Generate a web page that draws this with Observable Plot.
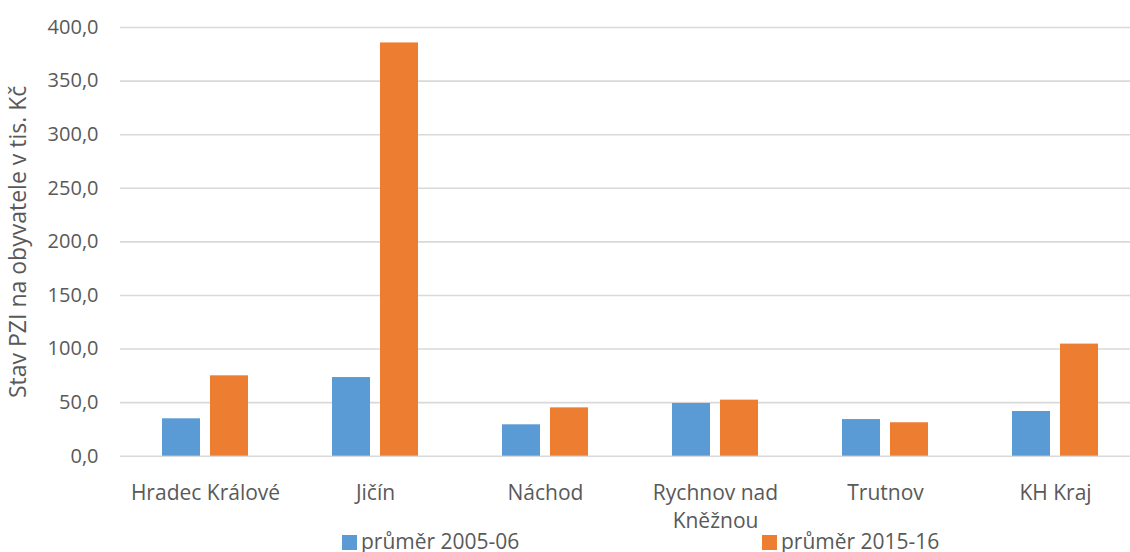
<!DOCTYPE html>
<html>
<head>
<meta charset="utf-8">
<script src="https://cdn.jsdelivr.net/npm/d3@7"></script>
<script src="https://cdn.jsdelivr.net/npm/@observablehq/plot@0.6"></script>
<style>
  html, body { margin: 0; padding: 0; background: #fff; overflow: hidden; }
  #wrap { width: 1130px; height: 552px; overflow: hidden; position: relative; font-family: "Open Sans", sans-serif; }
  #chart svg { display: block; }
  #legend { position: absolute; left: 0; top: 531px; width: 1130px; height: 20px; font-size: 21px; color: #595959; }
  .item { position: absolute; top: 0; height: 20px; line-height: 20px; white-space: nowrap; }
  .sw { display: inline-block; width: 15px; height: 15px; vertical-align: -1px; margin-right: 4px; }
</style>
</head>
<body>
<div id="wrap">
  <div id="chart"></div>
  <div id="legend"></div>
</div>
<script>
const categories = ["Hradec Králové", "Jičín", "Náchod", "Rychnov nad Kněžnou", "Trutnov", "KH Kraj"];
const series = ["průměr 2005-06", "průměr 2015-16"];
const values2005 = [34.9, 73.4, 29.3, 49.2, 34.2, 41.7];
const values2015 = [75.0, 385.6, 45.1, 52.3, 31.2, 104.6];
const yTicks = [0, 50, 100, 150, 200, 250, 300, 350, 400];
const colors = ["#5B9BD5", "#ED7D31"];
const yTitle = "Stav PZI na obyvatele v tis. Kč";

const data = categories.flatMap((c, i) => [
  {c, s: series[0], v: values2005[i]},
  {c, s: series[1], v: values2015[i]}
]);

const labelText = d => d === "Rychnov nad Kněžnou" ? "Rychnov nad\nKněžnou" : d;

const chart = Plot.plot({
  width: 1130,
  height: 529,
  marginLeft: 120,
  marginRight: -10,
  marginTop: 27,
  marginBottom: 73.3,
  style: {fontFamily: "Open Sans", fontSize: "20px", color: "#595959", background: "#fff", overflow: "visible"},
  fx: {domain: categories, padding: 0, label: null},
  x: {domain: series, paddingInner: 0.2165, paddingOuter: 0.861, axis: null},
  y: {domain: [0, 400], label: null},
  color: {domain: series, range: colors},
  marks: [
    Plot.gridY(yTicks, {stroke: "#D9D9D9", strokeOpacity: 1, strokeWidth: 1.6}),
    Plot.barY(data, {fx: "c", x: "s", y: "v", fill: "s"}),
    Plot.axisY(yTicks, {
      tickSize: 0, tickPadding: 22, fontSize: 20,
      tickFormat: d => d.toFixed(1).replace(".", ","),
      label: null
    }),
    Plot.axisY([], {
      tickSize: 0, fontSize: 23,
      label: yTitle, labelAnchor: "center", labelArrow: "none", labelOffset: 111
    }),
    Plot.axisFx({anchor: "bottom", tickSize: 0, tickPadding: 24, fontSize: 21, lineHeight: 1.33, tickFormat: labelText, label: null})
  ]
});
document.getElementById("chart").appendChild(chart);

const legend = document.getElementById("legend");
const lefts = [342, 762];
series.forEach((s, i) => {
  const it = document.createElement("div");
  it.className = "item";
  it.style.left = lefts[i] + "px";
  it.innerHTML = `<span class="sw" style="background:${colors[i]}"></span>${s}`;
  legend.appendChild(it);
});
</script>
</body>
</html>
